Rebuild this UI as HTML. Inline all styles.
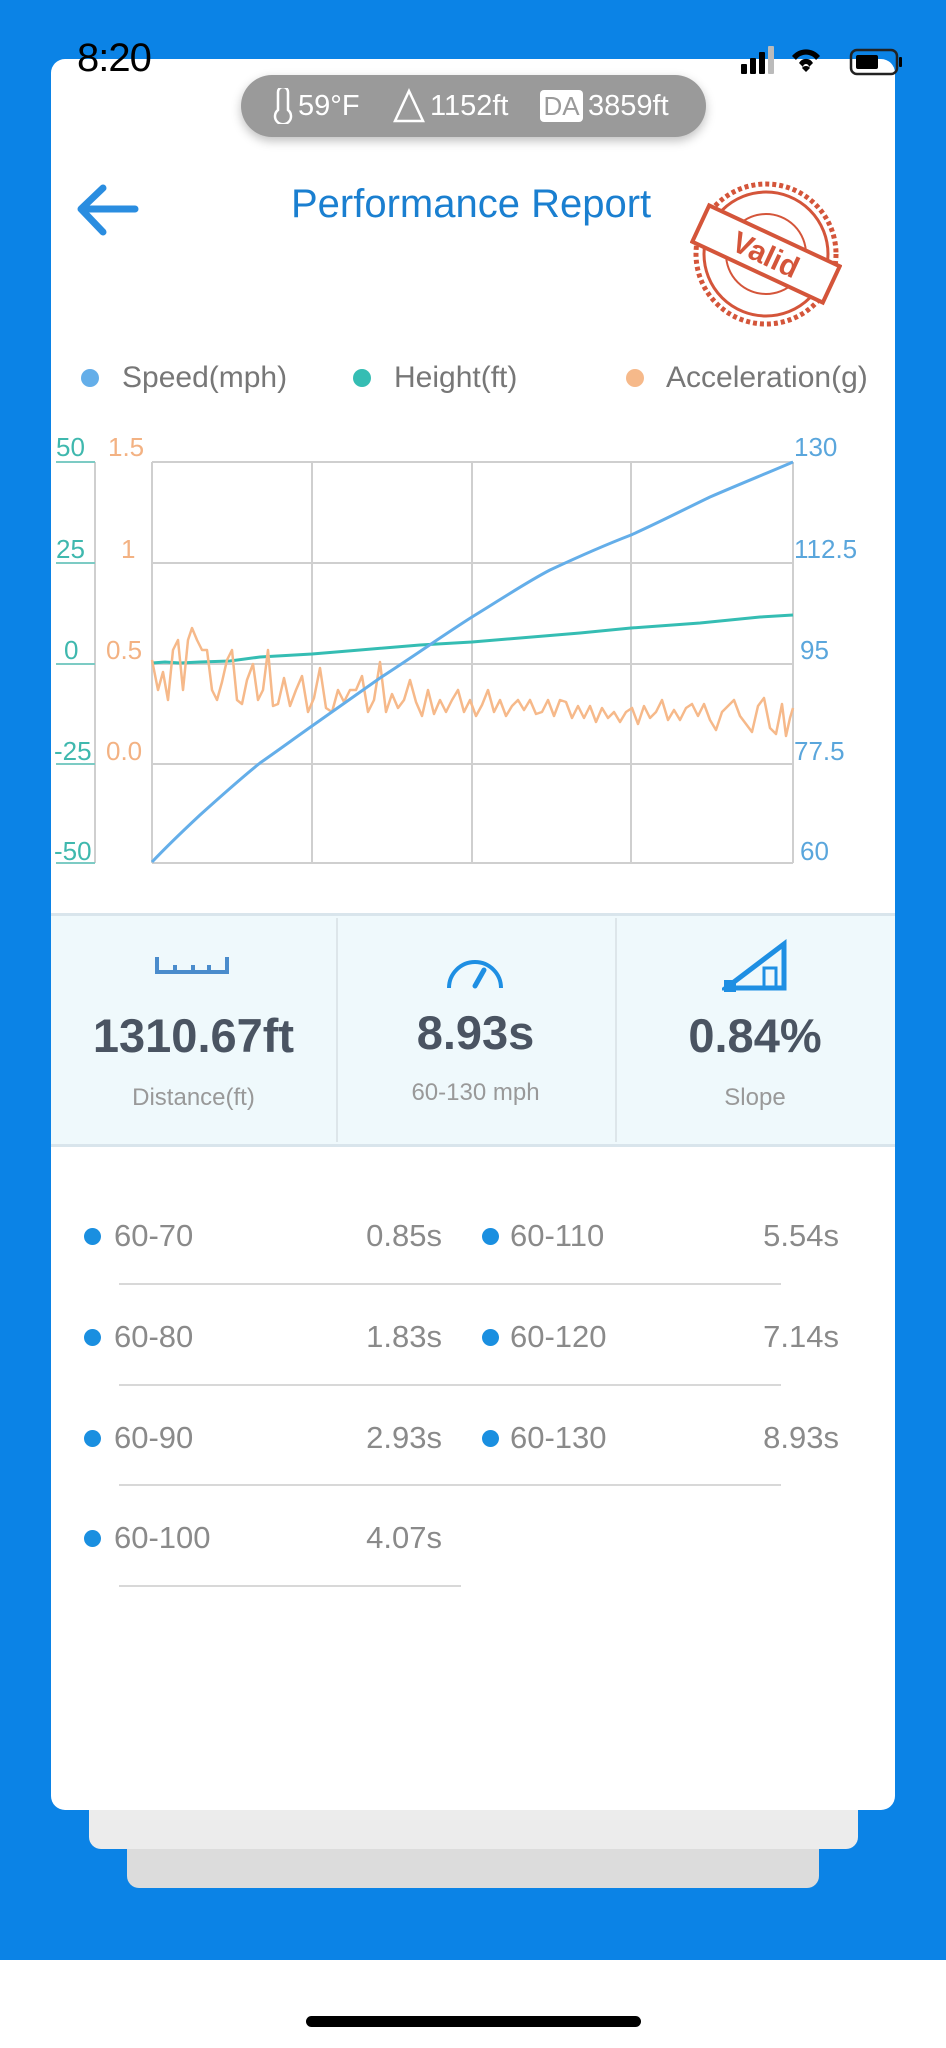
<!DOCTYPE html>
<html><head><meta charset="utf-8"><style>
body{margin:0;width:946px;height:2048px;position:relative;background:#fff;font-family:"Liberation Sans",sans-serif;overflow:hidden}
.abs{position:absolute}
</style></head><body>
<div class="abs" style="left:0;top:0;width:946px;height:1960px;background:#0b83e6"></div>
<div class="abs" style="left:127px;top:1830px;width:692px;height:58px;background:#dcdcdc;border-radius:0 0 12px 12px"></div>
<div class="abs" style="left:89px;top:1800px;width:769px;height:49px;background:#ececec;border-radius:0 0 12px 12px"></div>
<div class="abs" style="left:51px;top:59px;width:844px;height:1751px;background:#fff;border-radius:14px"></div>
<div class="abs" style="left:306px;top:2016px;width:335px;height:11px;background:#000;border-radius:6px"></div>
<!-- status bar -->
<div class="abs" style="left:77px;top:36px;font-size:40px;color:#000;letter-spacing:-1px">8:20</div>
<svg class="abs" style="left:735px;top:42px" width="175" height="36">
<rect x="6" y="22" width="6" height="10" rx="1"/><rect x="15" y="16" width="6" height="16" rx="1"/><rect x="24" y="10" width="6" height="22" rx="1"/><rect x="33" y="4" width="6" height="28" fill="#bbb" rx="1"/>
<path d="M57 14 A18 18 0 0 1 85 14 L81 18 A12 12 0 0 0 61 18Z M64 21 A8 8 0 0 1 78 21 L74 25 A3 3 0 0 0 68 25Z M71 30 L67 26 A5 5 0 0 1 75 26Z"/>
<rect x="116" y="8" width="46" height="24" rx="6" fill="none" stroke="#222" stroke-width="2.5"/><rect x="121" y="13" width="22" height="14" rx="2"/><rect x="164" y="15" width="3" height="10" rx="1"/>
</svg>
<!-- pill -->
<div class="abs" style="left:241px;top:75px;width:465px;height:62px;background:#9a9a9a;border-radius:31px;box-shadow:0 4px 10px rgba(0,0,0,.25)"></div>
<svg class="abs" style="left:268px;top:88px" width="30" height="36"><path d="M10 4 a5 5 0 0 1 10 0 v18 a8 8 0 1 1 -10 0z" fill="none" stroke="#fff" stroke-width="2.5"/></svg>
<div class="abs" style="left:298px;top:90px;font-size:29px;color:#fff">59°F</div>
<svg class="abs" style="left:392px;top:88px" width="34" height="36"><path d="M17 3 L31 33 L3 33Z" fill="none" stroke="#fff" stroke-width="2.5"/></svg>
<div class="abs" style="left:430px;top:90px;font-size:29px;color:#fff">1152ft</div>
<div class="abs" style="left:540px;top:90px;width:43px;height:32px;background:#fff;border-radius:4px;color:#9a9a9a;font-size:26px;line-height:32px;text-align:center">DA</div>
<div class="abs" style="left:588px;top:90px;font-size:29px;color:#fff">3859ft</div>
<!-- header -->
<svg class="abs" style="left:75px;top:182px" width="66" height="56"><path d="M60 27 H8 M28 6 L6 27 L28 50" fill="none" stroke="#2a8de0" stroke-width="7" stroke-linecap="round" stroke-linejoin="round"/></svg>
<div class="abs" style="left:291px;top:182px;font-size:40px;color:#1a7fd0">Performance Report</div>
<svg class="abs" style="left:690px;top:180px" width="152" height="148">
<circle cx="76" cy="74" r="70" fill="none" stroke="#d4553a" stroke-width="5" stroke-dasharray="4 3"/>
<circle cx="76" cy="74" r="62" fill="none" stroke="#d4553a" stroke-width="3"/>
<circle cx="76" cy="74" r="40" fill="none" stroke="#d4553a" stroke-width="2"/>
<g transform="rotate(25 76 74)"><rect x="4" y="54" width="144" height="40" fill="#fff" stroke="#d4553a" stroke-width="4"/>
<text x="76" y="85" text-anchor="middle" font-size="30" font-weight="bold" fill="#d4553a" font-family="Liberation Sans">Valid</text></g>
</svg>
<!-- legend -->
<div class="abs" style="left:81px;top:369px;width:18px;height:18px;border-radius:50%;background:#64aee9"></div>
<div class="abs" style="left:122px;top:361px;font-size:30px;color:#777">Speed(mph)</div>
<div class="abs" style="left:353px;top:369px;width:18px;height:18px;border-radius:50%;background:#35bdb3"></div>
<div class="abs" style="left:394px;top:361px;font-size:30px;color:#777">Height(ft)</div>
<div class="abs" style="left:626px;top:369px;width:18px;height:18px;border-radius:50%;background:#f6b98a"></div>
<div class="abs" style="left:666px;top:361px;font-size:30px;color:#777">Acceleration(g)</div>
<!-- chart -->
<svg class="abs" style="left:0;top:0" width="946" height="900" font-family="Liberation Sans" font-size="26">
<g stroke="#cfcfcf" stroke-width="2" fill="none">
<path d="M152 462H793M152 563H793M152 664H793M152 764H793M152 863H793"/>
<path d="M152 462V863M312 462V863M472 462V863M631 462V863M793 462V863"/>
<path d="M95 462V863"/>
</g>
<g stroke="#7ccbc4" stroke-width="2"><path d="M56 462H95M56 563H95M56 664H95M56 764H95M56 863H95"/></g>
<g fill="#3fb8ae"><text x="56" y="456">50</text><text x="56" y="558">25</text><text x="64" y="659">0</text><text x="54" y="760">-25</text><text x="54" y="860">-50</text></g>
<g fill="#f3b283"><text x="108" y="456">1.5</text><text x="121" y="558">1</text><text x="106" y="659">0.5</text><text x="106" y="760">0.0</text></g>
<g fill="#5aa6dc"><text x="794" y="456">130</text><text x="794" y="558">112.5</text><text x="800" y="659">95</text><text x="794" y="760">77.5</text><text x="800" y="860">60</text></g>
<path d="M152 663 L165 662 L180 663 L200 662 L230 661 L260 657 L312 654 L360 650 L420 645 L472 642 L520 638 L580 633 L631 628 L700 623 L760 617 L793 615" fill="none" stroke="#35bdb3" stroke-width="3"/>
<polyline fill="none" stroke="#f6b98a" stroke-width="2.5" stroke-linejoin="round" points="152,660 158,690 163,672 168,700 173,650 178,640 183,690 188,640 192,628 197,640 202,650 207,650 212,690 217,700 222,682 227,660 232,650 237,700 242,704 247,680 253,664 258,700 263,690 268,650 273,706 278,704 284,678 290,706 296,690 302,676 308,712 314,698 320,668 326,708 332,712 338,690 344,702 350,690 356,690 362,676 368,712 374,700 380,662 386,712 392,694 398,708 404,700 410,680 416,702 422,716 428,690 434,714 440,700 446,712 452,700 458,690 464,712 470,700 476,716 482,705 488,690 494,712 500,700 506,716 512,706 518,700 524,710 530,700 536,714 542,712 548,700 554,716 560,700 566,702 572,718 578,706 584,718 590,706 596,722 602,708 608,718 614,712 620,722 626,712 632,708 638,724 644,706 650,718 656,712 662,700 668,720 674,710 680,720 686,708 692,704 698,716 704,704 710,720 716,730 722,712 728,706 734,700 740,716 746,724 752,732 758,706 764,698 770,728 776,734 782,704 786,736 790,718 793,708"/>
<path d="M152 862 C170 843 185 829 200 815 C220 797 240 779 260 763 C280 749 295 738 312 726 C340 706 360 692 380 678 C420 652 445 634 472 617 C500 600 525 583 550 570 C580 556 605 545 631 535 C660 522 685 509 710 497 C740 484 765 474 793 462" fill="none" stroke="#64aee9" stroke-width="3"/>
</svg>
<!-- stats -->
<div class="abs" style="left:51px;top:913px;width:844px;height:234px;background:#eff9fc;border-top:3px solid #d9e5ec;border-bottom:3px solid #d9e5ec;box-sizing:border-box"></div>
<div class="abs" style="left:336px;top:918px;width:2px;height:224px;background:#dde6ea"></div>
<div class="abs" style="left:615px;top:918px;width:2px;height:224px;background:#dde6ea"></div>
<svg class="abs" style="left:155px;top:955px" width="75" height="20"><path d="M2 2V17H72V2M20 10V17M38 10V17M54 10V17" fill="none" stroke="#4a8ccc" stroke-width="4"/></svg>
<svg class="abs" style="left:444px;top:948px" width="62" height="42"><path d="M5 40 A26 26 0 1 1 57 40" fill="none" stroke="#1e8fe3" stroke-width="4"/><path d="M31 38 L40 22" stroke="#1e8fe3" stroke-width="5" stroke-linecap="round"/></svg>
<svg class="abs" style="left:722px;top:938px" width="68" height="56"><path d="M4 50 L62 6 V50Z" fill="none" stroke="#1e8fe3" stroke-width="5"/><rect x="2" y="42" width="12" height="12" fill="#1e8fe3"/><rect x="42" y="30" width="12" height="20" fill="none" stroke="#1e8fe3" stroke-width="3"/></svg>
<div class="abs" style="left:51px;top:1008px;width:285px;text-align:center;font-size:47px;font-weight:bold;color:#4a5462">1310.67ft</div>
<div class="abs" style="left:336px;top:1005px;width:279px;text-align:center;font-size:47px;font-weight:bold;color:#4a5462">8.93s</div>
<div class="abs" style="left:615px;top:1008px;width:280px;text-align:center;font-size:47px;font-weight:bold;color:#4a5462">0.84%</div>
<div class="abs" style="left:51px;top:1084px;width:285px;text-align:center;font-size:24px;color:#999">Distance(ft)</div>
<div class="abs" style="left:336px;top:1079px;width:279px;text-align:center;font-size:24px;color:#999">60-130 mph</div>
<div class="abs" style="left:615px;top:1084px;width:280px;text-align:center;font-size:24px;color:#999">Slope</div>
<!-- list -->
<div style="font-size:31px;color:#8a8a8a">
<div class="abs" style="left:84px;top:1228px;width:17px;height:17px;border-radius:50%;background:#1a8fe0"></div><div class="abs" style="left:114px;top:1218px">60-70</div><div class="abs" style="left:300px;width:142px;text-align:right;top:1218px">0.85s</div>
<div class="abs" style="left:482px;top:1228px;width:17px;height:17px;border-radius:50%;background:#1a8fe0"></div><div class="abs" style="left:510px;top:1218px">60-110</div><div class="abs" style="left:700px;width:139px;text-align:right;top:1218px">5.54s</div>
<div class="abs" style="left:119px;top:1283px;width:662px;height:2px;background:#d8d8d8"></div>
<div class="abs" style="left:84px;top:1329px;width:17px;height:17px;border-radius:50%;background:#1a8fe0"></div><div class="abs" style="left:114px;top:1319px">60-80</div><div class="abs" style="left:300px;width:142px;text-align:right;top:1319px">1.83s</div>
<div class="abs" style="left:482px;top:1329px;width:17px;height:17px;border-radius:50%;background:#1a8fe0"></div><div class="abs" style="left:510px;top:1319px">60-120</div><div class="abs" style="left:700px;width:139px;text-align:right;top:1319px">7.14s</div>
<div class="abs" style="left:119px;top:1384px;width:662px;height:2px;background:#d8d8d8"></div>
<div class="abs" style="left:84px;top:1430px;width:17px;height:17px;border-radius:50%;background:#1a8fe0"></div><div class="abs" style="left:114px;top:1420px">60-90</div><div class="abs" style="left:300px;width:142px;text-align:right;top:1420px">2.93s</div>
<div class="abs" style="left:482px;top:1430px;width:17px;height:17px;border-radius:50%;background:#1a8fe0"></div><div class="abs" style="left:510px;top:1420px">60-130</div><div class="abs" style="left:700px;width:139px;text-align:right;top:1420px">8.93s</div>
<div class="abs" style="left:119px;top:1484px;width:662px;height:2px;background:#d8d8d8"></div>
<div class="abs" style="left:84px;top:1530px;width:17px;height:17px;border-radius:50%;background:#1a8fe0"></div><div class="abs" style="left:114px;top:1520px">60-100</div><div class="abs" style="left:300px;width:142px;text-align:right;top:1520px">4.07s</div>
<div class="abs" style="left:119px;top:1585px;width:342px;height:2px;background:#d8d8d8"></div>
</div>
</body></html>
